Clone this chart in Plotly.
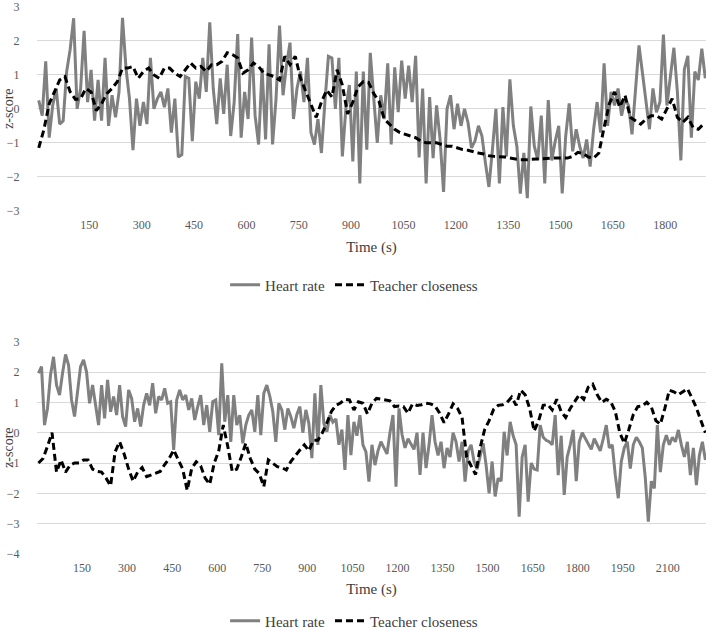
import plotly.graph_objects as go

# ---------------- data (z-scores) ----------------
# Top panel: heart rate sampled every 10 s (starting at 5 s)
hr_top = [
    0.25, -0.2, 1.4, -0.85, 0.1, 0.6, -0.45, -0.35, 1.1, 1.75,
    2.67, 0.0, 0.6, 2.3, 0.2, 1.15, -0.35, 0.85, -0.35, 1.5,
    -0.5, 0.4, -0.25, 0.5, 2.68, 1.2, 0.3, -1.22, 0.3, -0.5,
    0.2, -0.45, 1.5, 0.0, 0.3, 0.5, 0.05, 0.6, -0.7, 0.3,
    -1.42, -1.35, 0.95, 0.9, -0.95, 0.8, 0.3, 1.5, 0.5, 2.55,
    0.6, -0.45, 0.9, -0.15, 1.3, -0.8, 0.2, 2.2, -0.85, 0.5,
    -0.3, 2.1, -0.2, -1.05, 1.2, -0.9, 1.9, -1.05, 0.3, 2.45,
    0.4, 1.3, 1.95, -0.3, 0.6, 1.1, 0.2, 1.5, -0.7, -1.05,
    -0.3, -1.3, 0.2, 1.55, 1.5, 0.0, 1.5, -1.4, 0.0, 0.7,
    -1.55, 1.1, -2.2, 1.1, -1.2, 1.65, 0.3, -1.0, 0.4, -0.3,
    1.34, -1.05, 1.22, -0.1, 1.42, 0.3, 1.27, 0.2, 1.56, -1.43,
    0.6, -2.2, 0.35, -1.45, 0.1, -0.9, -2.45, 0.0, 0.4, -0.6,
    0.15, -0.5, 0.0, -0.4, -1.15, -0.95, -0.5, -0.8, -1.6, -2.3,
    -1.2, 0.0, -2.2, 0.05, -1.4, 0.87, -0.5, -1.1, -2.5, -1.3,
    -2.63, 0.07, -1.1, -1.5, -0.2, -2.2, 0.26, -1.52, -0.95, -0.5,
    -2.49, -0.8, 0.16, -1.25, -0.6, -1.1, -1.45, -0.9, -1.7, -0.6,
    0.2, -0.7, 1.34, -0.5, 0.5, 0.1, 0.6, -0.2, 0.3, 0.1,
    -0.75, 0.6, 1.87, 1.05, 0.3, -0.6, 0.6, -0.1, 0.2, 2.19,
    0.1, 0.9, 1.8, 0.5, -1.52, 1.17, 1.56, -0.85, 1.1, 0.85,
    1.77, 0.9,
]

# Top panel: teacher closeness sampled every 15 s (starting at 5 s)
tc_top = [
    -1.15, -0.6, 0.15, 0.5, 0.85, 0.95, 0.5, 0.28, 0.3, 0.6,
    0.5, -0.05, 0.15, 0.45, 0.6, 0.8, 1.2, 1.2, 1.25, 0.9,
    1.1, 1.2, 1.0, 0.9, 1.2, 1.2, 1.05, 0.95, 1.15, 1.35,
    1.2, 1.25, 1.1, 1.3, 1.3, 1.4, 1.65, 1.6, 1.5, 1.05,
    1.15, 1.35, 1.25, 1.05, 1.0, 0.95, 0.85, 1.55, 1.3, 1.55,
    0.9, 0.5, 0.1, -0.25, 0.2, 0.55, 0.35, 1.15, 0.7, -0.15,
    0.2, 0.65, 0.8, 0.78, 0.45, 0.22, -0.3, -0.45, -0.6, -0.7,
    -0.75, -0.78, -0.85, -0.95, -1.0, -1.0, -1.0, -1.05, -1.1, -1.1,
    -1.15, -1.2, -1.22, -1.27, -1.3, -1.33, -1.38, -1.4, -1.4, -1.42,
    -1.45, -1.48, -1.5, -1.5, -1.5, -1.48, -1.47, -1.45, -1.45, -1.45,
    -1.45, -1.45, -1.4, -1.28, -1.32, -1.42, -1.45, -1.3, -0.55, 0.15,
    0.5, 0.05, 0.4, -0.25, -0.35, -0.45, -0.3, -0.2, -0.2, -0.3,
    0.0, 0.3, -0.25, -0.4, -0.25, -0.55, -0.6, -0.45,
]

# Bottom panel: heart rate sampled every 10 s (starting at 5 s)
hr_bottom = [
    1.96, 2.18, 0.25, 0.8, 1.9, 2.5, 1.57, 1.24, 1.96, 2.58,
    2.23, 1.08, 0.53, 1.46, 2.18, 2.4, 2.0, 0.97, 1.57, 0.91,
    0.25, 1.57, 0.47, 1.74, 0.69, 1.19, 0.58, 1.57, 0.53, 0.2,
    1.41, 1.13, 0.36, 0.8, 0.2, 0.91, 1.3, 0.9, 1.63, 0.64,
    1.19, 1.08, 1.46, 0.97, 1.02, -0.57, 1.08, 1.41, 1.08, 1.24,
    0.75, 1.13, 0.42, 0.86, 1.24, 0.25, 0.91, 0.03, 1.02, 1.08,
    -0.08, 2.29, 0.36, 1.24, -0.3, 1.24, 0.25, 0.58, -0.35, 0.25,
    0.58, 0.75, 0.03, 1.24, -0.08, 1.3, 1.57, 1.2, 0.69, -0.3,
    0.97, 0.75, 0.1, 0.8, 0.53, 0.15, 0.6, 0.86, 0.0, 0.75,
    0.3, -0.84, 1.3, -0.4, 1.57, 0.3, 0.03, 0.58, 0.35, 0.45,
    -0.4, 0.1, -1.23, 0.58, -0.74, 0.36, -0.1, 0.58, -0.4, -0.63,
    -1.61, -0.4, -1.07, -0.6, -0.3, -0.5, -0.7, 0.0, 0.58, -1.78,
    0.8, -0.05, -0.5, -0.2, -0.4, -0.55, 0.0, -1.39, 0.0, -1.17,
    -0.4, 0.58, -0.3, -0.75, -0.3, -1.17, -0.5, -0.8, 0.0, -0.3,
    -0.95, -0.3, -1.61, -0.6, -0.4, -0.95, -1.2, -0.74, -0.35, -1.07,
    -2.0, -0.95, -2.1, -1.5, -1.6, 0.03, -0.75, 0.36, -0.1, -0.4,
    -2.77, -0.8, -0.4, -2.27, -1.0, -1.2, -1.23, 0.25, -0.15, -0.25,
    -0.3, -0.4, 0.58, -1.4, -0.1, -2.05, -0.8, -0.4, 0.09, -1.6,
    -0.3, 0.0, -0.2, -0.4, -0.55, -0.2, -0.4, -0.6, -0.2, 0.25,
    -0.5, -0.4, -1.4, -2.16, -0.95, -0.5, -0.3, -1.18, -0.4, -0.15,
    -0.3, -0.5, -1.5, -2.93, -1.6, -1.84, 0.25, -1.3, -0.4, -0.08,
    -0.4, -0.15, -0.3, 0.09, -0.4, -0.8, -0.3, -1.4, -0.5, -1.73,
    -0.74, -0.3, -0.9,
]

# Bottom panel: teacher closeness sampled every 15 s (starting at 5 s)
tc_bottom = [
    -1.0, -0.85, -0.45, 0.0, -1.3, -0.9, -1.3, -1.07, -1.0, -1.0,
    -0.9, -0.9, -1.2, -1.28, -1.3, -1.5, -1.75, -0.63, -0.3, -0.7,
    -1.2, -1.6, -1.3, -1.15, -1.45, -1.4, -1.35, -1.28, -1.05, -0.85,
    -0.57, -0.9, -1.2, -1.9, -1.18, -0.96, -1.1, -1.5, -1.7, -1.0,
    -0.6, 0.25, -0.45, -1.28, -1.2, -0.8, -0.35, -0.85, -1.2, -1.35,
    -1.78, -0.9, -1.0, -1.12, -1.15, -1.23, -0.95, -0.75, -0.57, -0.4,
    -0.6, -0.25, -0.25, 0.0, 0.32, 0.7, 0.9, 0.98, 1.1, 1.08,
    0.75, 1.02, 0.97, 0.62, 0.97, 1.13, 1.1, 1.08, 1.05, 0.86,
    0.88, 0.86, 0.64, 0.95, 0.9, 0.92, 0.97, 0.95, 0.88, 0.65,
    0.33, 0.62, 0.95, 0.8, 0.5, -0.8, -1.1, -1.38, -0.5, 0.1,
    0.4, 0.77, 0.9, 0.92, 1.0, 1.17, 0.9, 1.4, 1.25, 0.8,
    0.05, 0.4, 0.9, 0.93, 0.75, 1.1, 0.69, 0.5, 0.8, 1.02,
    1.25, 1.1, 1.5, 1.6, 1.25, 1.0, 1.1, 1.02, 0.7, 0.0,
    -0.35, 0.1, 0.6, 0.86, 0.88, 1.0, 0.85, 0.4, 0.28, 0.8,
    1.4, 1.35, 1.25, 1.35, 1.45, 1.15, 0.82, 0.4, 0.0,
]

T0 = 5          # first sample time (s)
HR_STEP = 10    # heart-rate sampling step (s)
TC_STEP = 15    # teacher-closeness sampling step (s)
top_x_range = [0, 1917]
bottom_x_range = [0, 2227]
top_xticks = list(range(150, 1801, 150))
bottom_xticks = list(range(150, 2101, 150))
top_yticks = [-3, -2, -1, 0, 1, 2, 3]
bottom_yticks = [-4, -3, -2, -1, 0, 1, 2, 3]

hr_top_t = [T0 + HR_STEP * i for i in range(len(hr_top))]
tc_top_t = [T0 + TC_STEP * i for i in range(len(tc_top))]
hr_bottom_t = [T0 + HR_STEP * i for i in range(len(hr_bottom))]
tc_bottom_t = [T0 + TC_STEP * i for i in range(len(tc_bottom))]

# ---------------- styling ----------------
FONT = "Liberation Serif"
TICK_COLOR = "#595959"
TEXT_COLOR = "#404040"
GRID = "#d9d9d9"
HR_LINE = dict(color="#808080", width=3)
TC_LINE = dict(color="#000000", width=3, dash="7px,4px")

TOP_DOMAIN = [0.6661, 0.9889]
BOTTOM_DOMAIN = [0.1220, 0.4585]

fig = go.Figure()
fig.add_trace(go.Scatter(x=hr_top_t, y=hr_top, mode="lines", name="Heart rate",
                         line=HR_LINE, xaxis="x", yaxis="y", legend="legend"))
fig.add_trace(go.Scatter(x=tc_top_t, y=tc_top, mode="lines", name="Teacher closeness",
                         line=TC_LINE, xaxis="x", yaxis="y", legend="legend"))
fig.add_trace(go.Scatter(x=hr_bottom_t, y=hr_bottom, mode="lines", name="Heart rate",
                         line=HR_LINE, xaxis="x2", yaxis="y2", legend="legend2"))
fig.add_trace(go.Scatter(x=tc_bottom_t, y=tc_bottom, mode="lines", name="Teacher closeness",
                         line=TC_LINE, xaxis="x2", yaxis="y2", legend="legend2"))

xaxis_common = dict(
    showgrid=False, zeroline=False, showline=False,
    ticks="outside", ticklen=3, tickcolor="rgba(0,0,0,0)",
    tickfont=dict(family=FONT, size=12, color=TICK_COLOR),
    automargin=False, ticklabeloverflow="allow",
)
yaxis_common = dict(
    showgrid=True, gridcolor=GRID, gridwidth=1, zeroline=False, showline=False,
    ticks="outside", ticklen=14, tickcolor="rgba(0,0,0,0)",
    tickfont=dict(family=FONT, size=12, color=TICK_COLOR),
    automargin=False, ticklabeloverflow="allow",
)
legend_common = dict(
    orientation="h", xanchor="center", x=0.474, yanchor="middle",
    font=dict(family=FONT, size=15, color=TEXT_COLOR),
    itemwidth=30, bgcolor="rgba(0,0,0,0)", tracegroupgap=0,
)
xtitle_font = dict(family=FONT, size=15, color=TEXT_COLOR)

fig.update_layout(
    width=709, height=631,
    template="none",
    paper_bgcolor="white", plot_bgcolor="white",
    margin=dict(l=37, r=3, t=0, b=0, autoexpand=False),
    xaxis=dict(xaxis_common, domain=[0, 1], anchor="y", range=top_x_range,
               tickvals=top_xticks,
               title=dict(text="Time (s)", font=xtitle_font, standoff=10)),
    yaxis=dict(yaxis_common, domain=TOP_DOMAIN, anchor="x", range=[-3, 3],
               tickvals=top_yticks),
    xaxis2=dict(xaxis_common, domain=[0, 1], anchor="y2", range=bottom_x_range,
                tickvals=bottom_xticks,
                title=dict(text="Time (s)", font=xtitle_font, standoff=9)),
    yaxis2=dict(yaxis_common, domain=BOTTOM_DOMAIN, anchor="x2", range=[-4, 3],
                tickvals=bottom_yticks),
    legend=dict(legend_common, y=1 - 285 / 631),
    legend2=dict(legend_common, y=1 - 621 / 631),
    showlegend=True,
)

for dom in (TOP_DOMAIN, BOTTOM_DOMAIN):
    fig.add_annotation(
        text="z-score", textangle=-90, showarrow=False,
        xref="paper", yref="paper", x=(9 - 37) / 669, y=(dom[0] + dom[1]) / 2,
        xanchor="center", yanchor="middle",
        font=dict(family=FONT, size=14, color=TEXT_COLOR),
    )

# remove the browser's default 8px body margin so the figure sits at the window origin
fig.write_html("out.html", config={"displayModeBar": False},
               post_script="document.body.style.margin='0px';")
